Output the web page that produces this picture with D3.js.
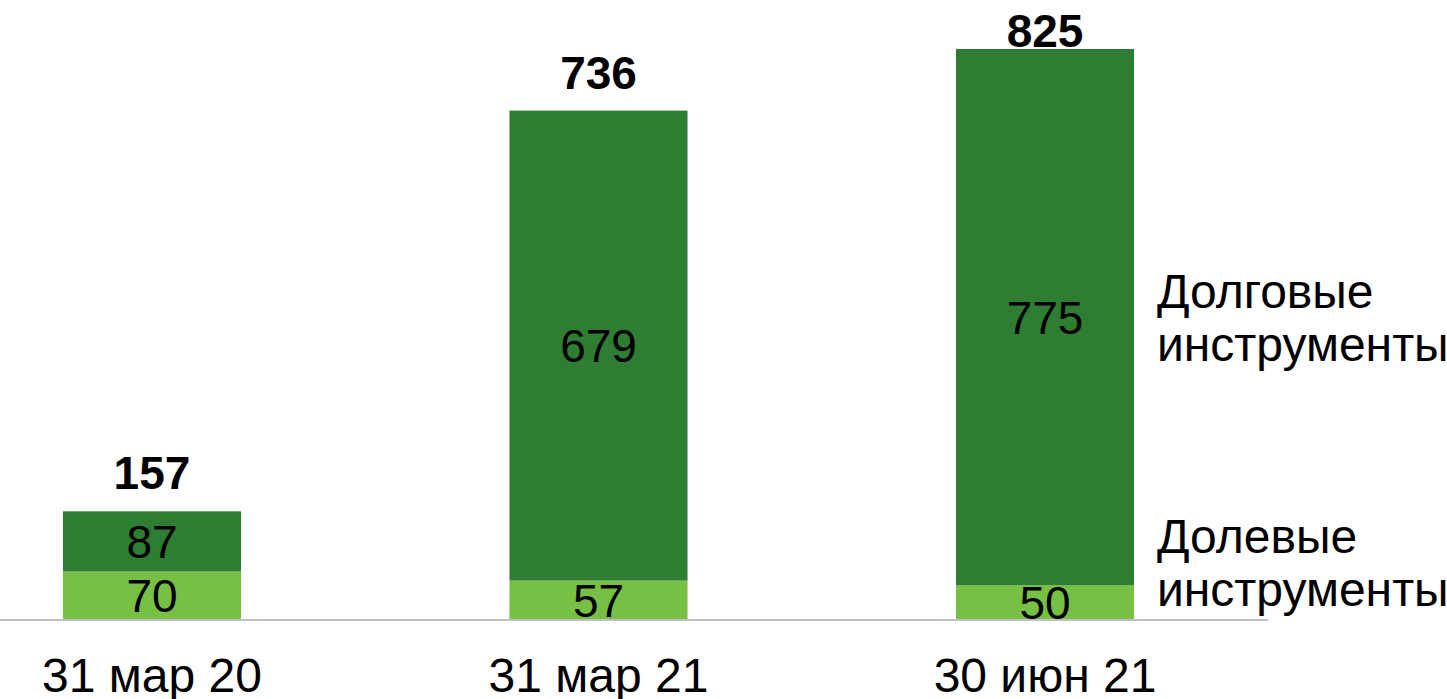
<!DOCTYPE html>
<html><head><meta charset="utf-8">
<script src="https://cdn.jsdelivr.net/npm/d3@7"></script>
<style>html,body{margin:0;padding:0;background:#fff;}svg{display:block;font-family:"Liberation Sans",Arial,sans-serif;}</style>
</head><body>
<script>
const categories = ["31 мар 20", "31 мар 21", "30 июн 21"];
const equity = [70, 57, 50];      // Долевые инструменты
const debt = [87, 679, 775];      // Долговые инструменты
const totals = [157, 736, 825];
const seriesNames = ["Долевые\nинструменты", "Долговые\nинструменты"];

const W = 1447, H = 699;
const svg = d3.select("body").append("svg").attr("width", W).attr("height", H);

const x = d3.scaleBand().domain(categories).range([0, 1197]).paddingInner(0.6013).paddingOuter(0.141);
const y = d3.scaleLinear().domain([0, 825]).range([620, 49]);

const colors = ["#77c043", "#2e7d32"];
const data = categories.map((c, i) => ({cat: c, equity: equity[i], debt: debt[i], total: totals[i]}));
const stack = d3.stack().keys(["equity", "debt"])(data);

const g = svg.append("g");
stack.forEach((layer, li) => {
  g.selectAll(null).data(layer).enter().append("rect")
    .attr("x", d => x(d.data.cat))
    .attr("width", x.bandwidth())
    .attr("y", d => y(d[1]))
    .attr("height", d => y(d[0]) - y(d[1]))
    .attr("fill", colors[li]);
  g.selectAll(null).data(layer).enter().append("text")
    .attr("x", d => x(d.data.cat) + x.bandwidth() / 2)
    .attr("y", d => (y(d[0]) + y(d[1])) / 2)
    .attr("dy", "0.36em")
    .attr("text-anchor", "middle")
    .attr("font-size", 46)
    .attr("fill", "#000")
    .text(d => d[1] - d[0]);
});

// totals
g.selectAll(null).data(data).enter().append("text")
  .attr("x", d => x(d.cat) + x.bandwidth() / 2)
  .attr("y", d => Math.max(y(d.total) - 22, 47))
  .attr("text-anchor", "middle")
  .attr("font-size", 46)
  .attr("font-weight", "bold")
  .attr("fill", "#000")
  .text(d => d.total);

// baseline
svg.append("line").attr("x1", 0).attr("x2", 1268).attr("y1", 620).attr("y2", 620)
  .attr("stroke", "#bfbfbf").attr("stroke-width", 2);

// category axis
const ax = svg.append("g").attr("transform", "translate(0,620)")
  .call(d3.axisBottom(x).tickSize(0).tickPadding(0));
ax.select(".domain").remove();
ax.selectAll("text").attr("font-size", 48).attr("font-family", "Liberation Sans, Arial, sans-serif")
  .attr("fill", "#000").attr("y", 72).attr("dy", 0);

// legend labels
const legendY = [553, 308];
seriesNames.forEach((name, i) => {
  const t = svg.append("text").attr("x", 1157).attr("y", legendY[i])
    .attr("font-size", 48).attr("fill", "#000");
  name.split("\n").forEach((line, j) => {
    t.append("tspan").attr("x", 1157).attr("dy", j === 0 ? 0 : 53).text(line);
  });
});
</script>
</body></html>
